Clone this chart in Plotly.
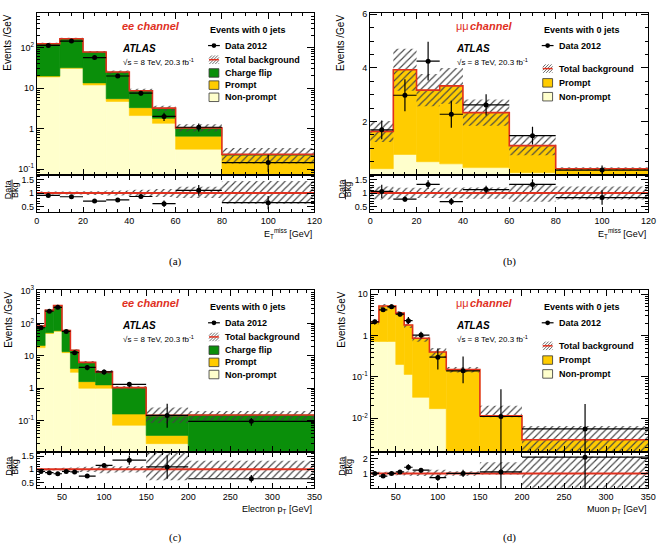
import plotly.graph_objects as go

W, H = 666, 547
FONT = "Liberation Sans"
RED = "#e0301e"
GREEN = "#0a8f0a"
ORANGE = "#ffcc00"
CREAM = "#ffffcc"
HATCH = "#444444"

# ---------------- data ----------------
# (a) ee channel, E_T^miss
a_edges = [0, 10, 20, 30, 40, 50, 60, 80, 120]
a_nonprompt = [19, 31, 12, 4.7, 2.1, 1.35, 0.31, 0.05]
a_prompt = [1.0, 1.0, 1.5, 0.8, 1.2, 0.45, 0.34, 0.17]
a_chargeflip = [105, 134, 64.5, 19.5, 5.3, 1.4, 0.39, 0.01]
a_band_up = [0.06, 0.06, 0.07, 0.09, 0.12, 0.15, 0.23, 0.45]
a_band_dn = [0.06, 0.06, 0.07, 0.09, 0.12, 0.15, 0.19, 0.40]
a_data = [114, 146, 57, 20, 7.5, 2.0, 1.08, 0.145]
a_data_up = [3.4, 3.8, 2.4, 1.4, 0.9, 0.45, 0.25, 0.08]
a_data_dn = [3.4, 3.8, 2.4, 1.4, 0.9, 0.45, 0.23, 0.06]
a_ratio = [0.91, 0.86, 0.70, 0.74, 0.87, 0.60, 1.10, 0.64]
a_ratio_up = [0.03, 0.03, 0.04, 0.05, 0.08, 0.12, 0.20, 0.25]
a_ratio_dn = [0.03, 0.03, 0.04, 0.05, 0.08, 0.12, 0.20, 0.25]

# (b) mumu channel, E_T^miss
b_edges = [0, 10, 20, 30, 40, 60, 80, 120]
b_nonprompt = [0.24, 0.77, 0.50, 0.42, 0.28, 0.09, 0.02]
b_prompt = [1.39, 3.16, 2.67, 2.91, 2.05, 1.01, 0.22]
b_band_up = [0.24, 0.20, 0.19, 0.20, 0.21, 0.33, 0.24]
b_band_dn = [0.24, 0.20, 0.19, 0.20, 0.21, 0.33, 0.24]
b_data = [1.69, 2.98, 4.25, 2.27, 2.62, 1.47, 0.19]
b_data_up = [0.35, 0.60, 0.72, 0.50, 0.40, 0.33, 0.17]
b_data_dn = [0.35, 0.60, 0.72, 0.50, 0.40, 0.33, 0.17]
b_ratio = [1.06, 0.77, 1.32, 0.68, 1.13, 1.32, 0.83]
b_ratio_up = [0.25, 0.10, 0.16, 0.13, 0.14, 0.20, 0.27]
b_ratio_dn = [0.25, 0.10, 0.16, 0.13, 0.14, 0.20, 0.27]

# (c) ee channel, electron pT
c_edges = [20, 30, 40, 50, 60, 70, 90, 110, 150, 200, 350]
c_nonprompt = [18, 49, 58, 12.6, 3.1, 1.0, 1.0, 0.072, 0.0195, 0.003]
c_prompt = [3, 3, 2, 0.9, 1.0, 0.6, 0.27, 0.088, 0.0155, 0.002]
c_chargeflip = [62, 203, 300, 47.5, 10.9, 4.7, 1.93, 0.89, 0.11, 0.145]
c_band_up = [0.05, 0.05, 0.05, 0.06, 0.07, 0.10, 0.15, 0.12, 0.75, 0.33]
c_band_dn = [0.05, 0.05, 0.05, 0.06, 0.07, 0.10, 0.15, 0.12, 0.42, 0.33]
c_data = [74, 240, 315, 57, 12.6, 4.4, 3.2, 1.32, 0.145, 0.095]
c_data_up = [5, 10, 12, 5, 2, 0.8, 0.6, 0.25, 0.19, 0.025]
c_data_dn = [5, 10, 12, 5, 2, 0.8, 0.6, 0.25, 0.085, 0.025]
c_ratio = [0.92, 0.87, 0.83, 0.92, 0.90, 0.74, 1.15, 1.35, 1.09, 0.64]
c_ratio_up = [0.03, 0.03, 0.03, 0.04, 0.05, 0.05, 0.07, 0.18, 0.45, 0.14]
c_ratio_dn = [0.03, 0.03, 0.03, 0.04, 0.05, 0.05, 0.07, 0.18, 0.45, 0.14]

# (d) mumu channel, muon pT
d_edges = [20, 30, 40, 50, 60, 70, 90, 110, 150, 200, 350]
d_nonprompt = [0.72, 0.72, 0.72, 0.20, 0.115, 0.032, 0.017, 0, 0, 0]
d_prompt = [1.43, 4.48, 4.48, 3.30, 1.685, 0.828, 0.383, 0.15, 0.0115, 0.003]
d_band_up = [0.12, 0.12, 0.12, 0.12, 0.15, 0.18, 0.25, 0.15, 0.75, 1.15]
d_band_dn = [0.12, 0.12, 0.12, 0.12, 0.15, 0.18, 0.25, 0.15, 0.08, 0.97]
d_data = [2.15, 4.2, 5.0, 3.3, 2.3, 1.03, 0.30, 0.14, 0.011, 0.0055]
d_data_up = [0.3, 0.45, 0.5, 0.4, 0.5, 0.2, 0.19, 0.17, 0.039, 0.0165]
d_data_dn = [0.3, 0.45, 0.5, 0.4, 0.4, 0.18, 0.15, 0.07, 0.0109, 0.0054]
d_ratio = [1.0, 0.82, 1.0, 1.1, 1.42, 1.22, 0.71, 1.0, 1.1, 2.1]
d_ratio_up = [0.08, 0.1, 0.1, 0.12, 0.2, 0.15, 0.2, 0.25, 4.0, 4.0]
d_ratio_dn = [0.08, 0.1, 0.1, 0.12, 0.2, 0.15, 0.2, 0.25, 1.1, 2.1]

ETMISS = "E<sub>T</sub><sup>miss</sup> [GeV]"

panels = [
    dict(tag="(a)", edges=a_edges, comps=[("Non-prompt", a_nonprompt, CREAM), ("Prompt", a_prompt, ORANGE), ("Charge flip", a_chargeflip, GREEN)],
         band_up=a_band_up, band_dn=a_band_dn, data=a_data, dup=a_data_up, ddn=a_data_dn,
         ratio=a_ratio, rup=a_ratio_up, rdn=a_ratio_dn, log=True, yrange=[-1.15, 2.86],
         ytickvals=[0.1, 1, 10, 100], yticktext=["10<sup>-1</sup>", "1", "10", "10<sup>2</sup>"],
         rrange=[0.3, 1.67], rticks=[0.5, 1, 1.5], rticktext=["0.5", "1", "1.5"], rminor=0.1,
         xdtick=20, xminor=5, xtitle=ETMISS, channel="ee", geom=(34.3, 316.7, 7, 171, 208), col=0, row=0),
    dict(tag="(b)", edges=b_edges, comps=[("Non-prompt", b_nonprompt, CREAM), ("Prompt", b_prompt, ORANGE)],
         band_up=b_band_up, band_dn=b_band_dn, data=b_data, dup=b_data_up, ddn=b_data_dn,
         ratio=b_ratio, rup=b_ratio_up, rdn=b_ratio_dn, log=False, yrange=[0, 6.05],
         ytickvals=[2, 4, 6], yticktext=["2", "4", "6"],
         rrange=[0.3, 1.67], rticks=[0.5, 1, 1.5], rticktext=["0.5", "1", "1.5"], rminor=0.1,
         xdtick=20, xminor=5, xtitle=ETMISS, channel="mm", geom=(373.3, 656.3, 7, 171, 208), col=1, row=0),
    dict(tag="(c)", edges=c_edges, comps=[("Non-prompt", c_nonprompt, CREAM), ("Prompt", c_prompt, ORANGE), ("Charge flip", c_chargeflip, GREEN)],
         band_up=c_band_up, band_dn=c_band_dn, data=c_data, dup=c_data_up, ddn=c_data_dn,
         ratio=c_ratio, rup=c_ratio_up, rdn=c_ratio_dn, log=True, yrange=[-1.97, 3.03],
         ytickvals=[0.1, 1, 10, 100, 1000], yticktext=["10<sup>-1</sup>", "1", "10", "10<sup>2</sup>", "10<sup>3</sup>"],
         rrange=[0.28, 1.66], rticks=[0.5, 1, 1.5], rticktext=["0.5", "1", "1.5"], rminor=0.1,
         xdtick=50, xminor=10, xtitle="Electron p<sub>T</sub> [GeV]", channel="ee", geom=(34.3, 316.7, 287.3, 451, 487.5), col=0, row=1),
    dict(tag="(d)", edges=d_edges, comps=[("Non-prompt", d_nonprompt, CREAM), ("Prompt", d_prompt, ORANGE)],
         band_up=d_band_up, band_dn=d_band_dn, data=d_data, dup=d_data_up, ddn=d_data_dn,
         ratio=d_ratio, rup=d_ratio_up, rdn=d_ratio_dn, log=True, yrange=[-2.82, 1.1],
         ytickvals=[0.01, 0.1, 1, 10], yticktext=["10<sup>-2</sup>", "10<sup>-1</sup>", "1", "10"],
         rrange=[0.0, 2.45], rticks=[1, 2], rticktext=["1", "2"], rminor=0.2,
         xdtick=50, xminor=10, xtitle="Muon p<sub>T</sub> [GeV]", channel="mm", geom=(373.7, 656.0, 287.3, 451, 487.5), col=1, row=1),
]


def PX(x):
    return x / W


def PY(y):
    return 1 - y / H


fig = go.Figure()
layout = dict(width=W, height=H, margin=dict(l=0, r=0, t=0, b=0), paper_bgcolor="white",
              plot_bgcolor="white", barmode="overlay", showlegend=False,
              font=dict(family=FONT, color="black", size=9))
shapes = []
annotations = []

log_minor = [m * 10 ** e for e in range(-4, 4) for m in range(2, 10)]
HATCH_PATTERN = dict(shape="/", size=5, solidity=0.22, fgcolor=HATCH, bgcolor="rgba(0,0,0,0)", fillmode="replace")


def axis_common():
    return dict(ticks="inside", tickcolor="black", tickwidth=1, showline=True, linecolor="black",
                linewidth=1, mirror="allticks", showgrid=False, zeroline=False,
                tickfont=dict(family=FONT, size=9, color="black"))


def ann(x, y, text, size, xanchor="left", yanchor="middle", color="black", family=FONT, angle=0,
        weight="normal", style="normal"):
    annotations.append(dict(x=PX(x), y=PY(y), xref="paper", yref="paper", text=text, showarrow=False,
                            xanchor=xanchor, yanchor=yanchor, textangle=angle,
                            font=dict(family=family, size=size, color=color, weight=weight, style=style)))


for k, P in enumerate(panels):
    e = P["edges"]
    centers = [(e[i] + e[i + 1]) / 2 for i in range(len(e) - 1)]
    widths = [e[i + 1] - e[i] for i in range(len(e) - 1)]
    halfw = [w / 2 for w in widths]
    xm, ym, xr, yr = f"x{2*k+1}", f"y{2*k+1}", f"x{2*k+2}", f"y{2*k+2}"
    floor = 1e-7 if P["log"] else 0.0
    base = [floor] * len(centers)
    for name, vals, color in P["comps"]:
        fig.add_trace(go.Bar(x=centers, y=vals, base=base, width=widths, xaxis=xm, yaxis=ym,
                             marker=dict(color=color, line=dict(width=0.6, color=color)), hoverinfo="skip"))
        base = [b + v for b, v in zip(base, vals)]
    total = base
    # uncertainty band (main)
    fig.add_trace(go.Bar(x=centers, y=[t * (u + d) for t, u, d in zip(total, P["band_up"], P["band_dn"])],
                         base=[t * (1 - d) for t, d in zip(total, P["band_dn"])], width=widths,
                         xaxis=xm, yaxis=ym, marker=dict(color=HATCH, pattern=HATCH_PATTERN, line=dict(width=0)),
                         hoverinfo="skip"))
    # total background line
    fig.add_trace(go.Scatter(x=e, y=total + [total[-1]], mode="lines", line=dict(color=RED, width=1.6, shape="hv"),
                             xaxis=xm, yaxis=ym, hoverinfo="skip"))
    # data
    fig.add_trace(go.Scatter(x=centers, y=P["data"], mode="markers", xaxis=xm, yaxis=ym,
                             marker=dict(color="black", size=5),
                             error_x=dict(type="data", array=halfw, color="black", thickness=1.2, width=0),
                             error_y=dict(type="data", symmetric=False, array=P["dup"], arrayminus=P["ddn"],
                                          color="black", thickness=1.2, width=0),
                             hoverinfo="skip"))
    # ratio band
    fig.add_trace(go.Bar(x=centers, y=[u + d for u, d in zip(P["band_up"], P["band_dn"])],
                         base=[1 - d for d in P["band_dn"]], width=widths, xaxis=xr, yaxis=yr,
                         marker=dict(color=HATCH, pattern=HATCH_PATTERN, line=dict(width=0)), hoverinfo="skip"))
    fig.add_trace(go.Scatter(x=[e[0], e[-1]], y=[1, 1], mode="lines", line=dict(color=RED, width=2),
                             xaxis=xr, yaxis=yr, hoverinfo="skip"))
    fig.add_trace(go.Scatter(x=centers, y=P["ratio"], mode="markers", xaxis=xr, yaxis=yr,
                             marker=dict(color="black", size=5),
                             error_x=dict(type="data", array=halfw, color="black", thickness=1.2, width=0),
                             error_y=dict(type="data", symmetric=False, array=P["rup"], arrayminus=P["rdn"],
                                          color="black", thickness=1.2, width=0),
                             hoverinfo="skip"))

    gx0, gx1, gtop, gsplit, gbot = P["geom"]
    xdom = [PX(gx0), PX(gx1)]
    xa = axis_common()
    xa.update(domain=xdom, anchor=ym, range=[e[0], e[-1]], tick0=0, dtick=P["xdtick"], ticklen=6,
              showticklabels=False,
              minor=dict(ticks="inside", ticklen=3, tickcolor="black", dtick=P["xminor"], tick0=0, showgrid=False))
    layout[f"xaxis{2*k+1}"] = xa
    xb = axis_common()
    xb.update(domain=xdom, anchor=yr, range=[e[0], e[-1]], tick0=0, dtick=P["xdtick"], ticklen=5,
              showticklabels=True,
              minor=dict(ticks="inside", ticklen=2.5, tickcolor="black", dtick=P["xminor"], tick0=0, showgrid=False))
    layout[f"xaxis{2*k+2}"] = xb
    ya = axis_common()
    ya.update(domain=[PY(gsplit), PY(gtop)], anchor=xm, range=P["yrange"], tickmode="array",
              tickvals=P["ytickvals"], ticktext=P["yticktext"], ticklen=7)
    if P["log"]:
        ya.update(type="log", minor=dict(ticks="inside", ticklen=3.5, tickcolor="black", tickmode="array",
                                         tickvals=log_minor, showgrid=False))
    else:
        ya.update(type="linear", minor=dict(ticks="inside", ticklen=3.5, tickcolor="black", dtick=0.5, tick0=0,
                                            showgrid=False))
    layout[f"yaxis{2*k+1}"] = ya
    yb = axis_common()
    yb.update(domain=[PY(gbot), PY(gsplit)], anchor=xr, range=P["rrange"], tickmode="array",
              tickvals=P["rticks"], ticktext=P["rticktext"], ticklen=7,
              minor=dict(ticks="inside", ticklen=3.5, tickcolor="black", dtick=P["rminor"], tick0=0, showgrid=False))
    layout[f"yaxis{2*k+2}"] = yb

    # ---------- texts ----------
    dx = 0 if P["col"] == 0 else 339.3
    dy = 0 if P["row"] == 0 else 280.0
    yoff = 0 if P["row"] == 0 else 280.3

    if P["channel"] == "ee":
        ann(119 + dx, 20.5 + dy, "ee channel", 11, color=RED, weight="bold", style="italic")
    else:
        ann(119 + dx, 20.5 + dy, "μμ", 11, color=RED)
        ann(133.5 + dx, 20.5 + dy, "channel", 11, color=RED, weight="bold", style="italic")
    ann(119 + dx, 43 + dy, "ATLAS", 10, weight="bold", style="italic")
    ann(120 + dx, 57 + dy, "√s = 8 TeV, 20.3 fb<sup>-1</sup>", 8)
    ann(208.5 + dx, 24.2 + dy, "Events with 0 jets", 9, weight="bold")

    # legend rows
    bx0, bx1, tx = 209.5 + dx, 219.5 + dx, 223.5 + dx
    if P["channel"] == "ee":
        rows = [("data", "Data 2012", 40), ("band", "Total background", 54.3),
                ("fill", "Charge flip", 67.7, GREEN), ("fill", "Prompt", 80.0, ORANGE),
                ("fill", "Non-prompt", 92.3, CREAM)]
    else:
        rows = [("data", "Data 2012", 40), ("band", "Total background", 63.3),
                ("fill", "Prompt", 77.7, ORANGE), ("fill", "Non-prompt", 91.7, CREAM)]
    for r in rows:
        kind, label, yy = r[0], r[1], r[2] + yoff
        ann(tx, yy, label, 9, weight="bold")
        if kind == "data":
            shapes.append(dict(type="line", xref="paper", yref="paper", x0=PX(bx0 - 1), x1=PX(bx1 + 1),
                               y0=PY(yy), y1=PY(yy), line=dict(color="black", width=1.2)))
            shapes.append(dict(type="circle", xref="paper", yref="paper", x0=PX((bx0 + bx1) / 2 - 2.4),
                               x1=PX((bx0 + bx1) / 2 + 2.4), y0=PY(yy + 2.4), y1=PY(yy - 2.4),
                               fillcolor="black", line=dict(color="black", width=0)))
        elif kind == "fill":
            shapes.append(dict(type="rect", xref="paper", yref="paper", x0=PX(bx0), x1=PX(bx1),
                               y0=PY(yy + 4.3), y1=PY(yy - 4.3), fillcolor=r[3],
                               line=dict(color="#333333", width=0.8)))
        else:
            hx0, hx1, hy0, hy1 = bx0, bx1, yy - 4.3, yy + 4.3
            hh = hy1 - hy0
            a = hx0 - hh
            while a < hx1:
                tmin = max(0.0, hx0 - a)
                tmax = min(hh, hx1 - a)
                if tmax > tmin:
                    shapes.append(dict(type="line", xref="paper", yref="paper",
                                       x0=PX(a + tmin), y0=PY(hy1 - tmin), x1=PX(a + tmax), y1=PY(hy1 - tmax),
                                       line=dict(color=HATCH, width=0.8)))
                a += 3.0
            shapes.append(dict(type="line", xref="paper", yref="paper", x0=PX(bx0), x1=PX(bx1),
                               y0=PY(yy), y1=PY(yy), line=dict(color=RED, width=1.5)))

    # axis titles
    ann(gx1, gbot + 22, P["xtitle"], 9, xanchor="right")
    ann(gx0 - 29.5, gtop, "Events /GeV", 10, xanchor="center", yanchor="top", angle=-90)
    rc = (gsplit + gbot) / 2 - 4
    ann(gx0 - 28.5, rc, "Data", 9, xanchor="center", angle=-90)
    ann(gx0 - 21.6, rc, "Bkg", 9, xanchor="center", angle=-90)
    shapes.append(dict(type="line", xref="paper", yref="paper", x0=PX(gx0 - 25.1), x1=PX(gx0 - 25.1),
                       y0=PY(rc - 10), y1=PY(rc + 10), line=dict(color="black", width=0.8)))
    ann((gx0 + gx1) / 2, gbot + 50, P["tag"], 11, xanchor="center", family="Liberation Serif")

layout["shapes"] = shapes
layout["annotations"] = annotations
fig.update_layout(**layout)
fig.write_html("out.html")
